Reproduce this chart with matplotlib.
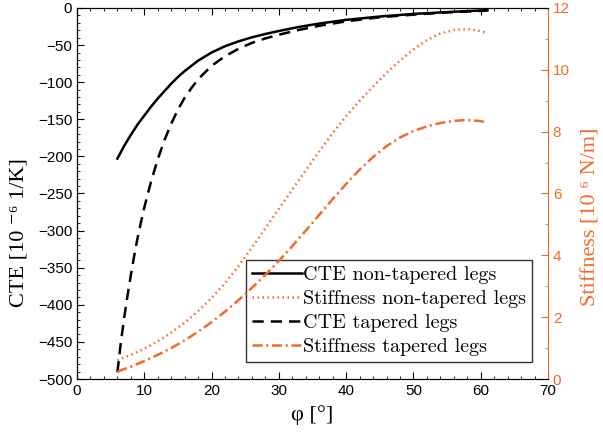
import matplotlib
matplotlib.use("Agg")
import matplotlib.pyplot as plt
from matplotlib.ticker import MultipleLocator

ORANGE = "#f26a2a"
SERIF = ["cmr10", "DejaVu Serif"]
TIMES = ["Liberation Serif", "DejaVu Serif"]
SANS = ["Liberation Sans", "DejaVu Sans"]

# CTE [1e-6 1/K] vs phi
phi_cte_nt = [6, 7, 8, 9, 10, 11, 12, 13, 14, 15, 16, 18, 20, 22, 24, 26, 28, 30, 33, 36, 40, 45, 50, 55, 61]
cte_nt = [-203, -186, -171, -157, -145, -133, -122, -112, -102, -93, -85, -71, -60, -51.5, -45, -39.5, -35, -31,
          -25.5, -21, -16, -11.5, -8, -5.5, -3]

phi_cte_t = [6, 6.5, 7, 7.5, 8, 8.5, 9, 9.5, 10, 11, 12, 13, 14, 15, 16, 17, 18, 20, 22, 24, 26, 28, 30, 33, 36,
             40, 45, 50, 55, 61]
cte_t = [-491, -452, -418, -388, -360, -334, -310, -289, -269, -234, -204, -178, -156, -137, -121, -108, -96,
         -78, -65, -55, -47, -41, -36, -29.5, -24, -18, -12.5, -9, -6, -3.5]

# Stiffness [1e6 N/m] vs phi
phi_st = [6, 8, 10, 12, 14, 16, 18, 20, 22, 24, 26, 28, 30, 32, 34, 36, 38, 40, 42, 44, 46, 48, 50, 52, 54, 56,
          58, 60, 61]
stiff_nt = [0.61, 0.78, 0.98, 1.22, 1.50, 1.82, 2.20, 2.62, 3.10, 3.65, 4.25, 4.88, 5.50, 6.13, 6.75, 7.36, 7.95,
            8.50, 9.00, 9.46, 9.90, 10.30, 10.66, 10.96, 11.17, 11.29, 11.32, 11.25, 11.19]
stiff_t = [0.24, 0.40, 0.58, 0.78, 1.00, 1.25, 1.53, 1.84, 2.18, 2.55, 2.95, 3.37, 3.82, 4.30, 4.80, 5.31, 5.82,
           6.31, 6.77, 7.18, 7.53, 7.81, 8.02, 8.17, 8.28, 8.35, 8.38, 8.34, 8.29]

fig = plt.figure(figsize=(6.03, 4.34), dpi=100)
ax = fig.add_axes([0.1277, 0.1267, 0.7811, 0.8549])
ax2 = ax.twinx()

l1, = ax.plot(phi_cte_nt, cte_nt, color="black", lw=1.8, label="CTE non-tapered legs")
l3, = ax.plot(phi_cte_t, cte_t, color="black", lw=1.8, ls=(0, (4.5, 2.8)), label="CTE tapered legs")
l2, = ax2.plot(phi_st, stiff_nt, color=ORANGE, lw=1.8, ls=(0, (0.6, 1.4)), label="Stiffness non-tapered legs")
l4, = ax2.plot(phi_st, stiff_t, color=ORANGE, lw=1.8, ls=(0, (4, 1.5, 0.8, 1.5)), label="Stiffness tapered legs")

ax.set_xlim(0, 70)
ax.set_ylim(-500, 0)
ax2.set_ylim(0, 12)

ax.xaxis.set_major_locator(MultipleLocator(10))
ax.xaxis.set_minor_locator(MultipleLocator(2))
ax.yaxis.set_major_locator(MultipleLocator(50))
ax.yaxis.set_minor_locator(MultipleLocator(10))
ax2.yaxis.set_major_locator(MultipleLocator(2))
ax2.yaxis.set_minor_locator(MultipleLocator(1))

ax.tick_params(which="both", direction="in", top=True, right=False, labelsize=11)
ax.tick_params(which="major", length=5)
ax.tick_params(which="minor", length=2.5)
ax2.tick_params(which="both", direction="in", colors=ORANGE, labelsize=11)
ax2.tick_params(which="major", length=5)
ax2.tick_params(which="minor", length=2.5)
for a in (ax, ax2):
    for t in a.get_xticklabels() + a.get_yticklabels():
        t.set_family(SANS)
ax2.spines["right"].set_color(ORANGE)
ax.spines["right"].set_visible(False)

ax.set_xlabel("φ [°]", family=TIMES, fontsize=16, labelpad=5)
ax.set_ylabel("CTE [10 ⁻⁶ 1/K]", family=TIMES, fontsize=16)
ax2.set_ylabel("Stiffness [10 ⁶ N/m]", family=TIMES, fontsize=16, color=ORANGE)
ax.yaxis.set_label_coords(-0.104, 0.396)
ax2.yaxis.set_label_coords(1.072, 0.437)

leg = ax.legend(handles=[l1, l2, l3, l4], loc="lower right", bbox_to_anchor=(0.966, 0.045),
                prop={"family": SERIF, "size": 14.5}, frameon=True, fancybox=False,
                edgecolor="#333333", framealpha=1, handlelength=2.5, handletextpad=0.05,
                labelspacing=0.3, borderpad=0.3, borderaxespad=0)
leg.get_frame().set_linewidth(1.0)

fig.savefig("out.png", dpi=100)
